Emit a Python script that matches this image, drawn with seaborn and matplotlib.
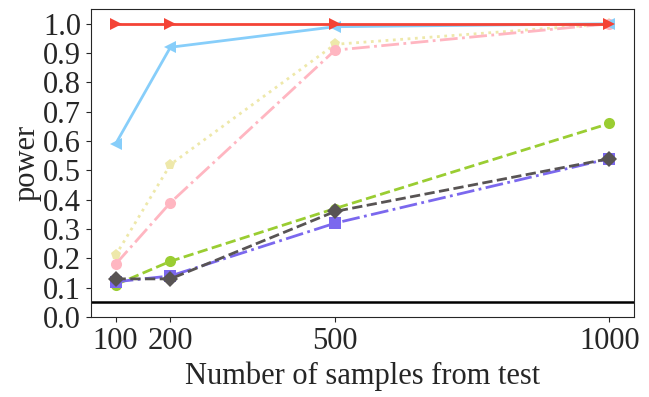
import matplotlib
matplotlib.use("Agg")
import matplotlib.pyplot as plt
import seaborn as sns
import pandas as pd

# sample sizes and power per test
n_samples = [100, 200, 500, 1000]
power_khaki = [0.21, 0.52, 0.93, 1.0]
power_pink = [0.18, 0.39, 0.91, 1.0]
power_blue = [0.59, 0.92, 0.99, 1.0]
power_red = [1.0, 1.0, 1.0, 1.0]
power_green = [0.11, 0.19, 0.37, 0.66]
power_slate = [0.12, 0.14, 0.32, 0.54]
power_gray = [0.13, 0.13, 0.36, 0.54]
alpha_level = 0.05

sns.set_style("ticks")
plt.rcParams['font.family'] = 'serif'
plt.rcParams['font.serif'] = ['Liberation Serif', 'DejaVu Serif']
plt.rcParams['font.size'] = 22

fig, ax = plt.subplots(figsize=(6.49, 3.97), dpi=100)

series = [
    (power_khaki, '#eee8aa', 'p', ':'),
    (power_pink, '#ffb6c1', 'o', '-.'),
    (power_blue, '#87cefa', '<', '-'),
    (power_red, '#f44336', '>', '-'),
    (power_green, '#9acd32', 'o', '--'),
    (power_slate, '#7b68ee', 's', '-.'),
    (power_gray, '#585454', 'D', '--'),
]

for vals, col, mk, ls in series:
    df = pd.DataFrame({'n': n_samples, 'power': vals})
    sns.lineplot(data=df, x='n', y='power', ax=ax, color=col, marker=mk,
                 linestyle=ls, linewidth=2, markersize=8,
                 markeredgewidth=0, markeredgecolor=col)

ax.axhline(alpha_level, color='black', linewidth=1.8)

ax.set_xticks(n_samples)
ax.set_yticks([i / 10 for i in range(11)])
ax.set_ylim(0, 1.05)
ax.set_xlabel('Number of samples from test', fontsize=22, labelpad=4)
ax.set_ylabel('power', fontsize=22, labelpad=1)
ax.tick_params(labelsize=22)

fig.subplots_adjust(left=0.140, right=0.977, bottom=0.2015, top=0.977)
fig.savefig('out.png', dpi=100)
